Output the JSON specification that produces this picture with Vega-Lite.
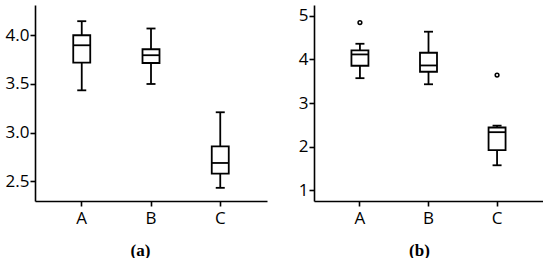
{
  "$schema": "https://vega.github.io/schema/vega-lite/v6.json",
  "padding": {"left": 5, "top": 5, "right": 0, "bottom": 0},
  "autosize": {"type": "pad"},
  "spacing": 47,
  "bounds": "flush",
  "background": "white",
  "config": {
    "view": {"stroke": null},
    "font": "Open Sans",
    "axis": {
      "grid": false,
      "domainColor": "black",
      "domainWidth": 1.6,
      "tickColor": "black",
      "tickWidth": 1.6,
      "tickSize": 5,
      "labelFont": "Open Sans",
      "labelFontSize": 17,
      "labelColor": "black"
    }
  },
  "datasets": {
    "boxes": [
      {"panel": "a", "group": "A", "lower": 3.435, "q1": 3.72, "median": 3.897, "q3": 4.0, "upper": 4.144},
      {"panel": "a", "group": "B", "lower": 3.5, "q1": 3.715, "median": 3.795, "q3": 3.856, "upper": 4.069},
      {"panel": "a", "group": "C", "lower": 2.435, "q1": 2.58, "median": 2.69, "q3": 2.86, "upper": 3.21},
      {"panel": "b", "group": "A", "lower": 3.57, "q1": 3.855, "median": 4.115, "q3": 4.21, "upper": 4.36},
      {"panel": "b", "group": "B", "lower": 3.43, "q1": 3.717, "median": 3.862, "q3": 4.154, "upper": 4.637},
      {"panel": "b", "group": "C", "lower": 1.57, "q1": 1.917, "median": 2.33, "q3": 2.437, "upper": 2.48}
    ],
    "outliers": [
      {"panel": "b", "group": "A", "value": 4.846},
      {"panel": "b", "group": "C", "value": 3.64}
    ]
  },
  "hconcat": [
    {
      "width": 232,
      "height": 196,
      "data": {"name": "boxes"},
      "transform": [{"filter": "datum.panel === 'a'"}],
      "encoding": {
        "x": {
          "field": "group", "type": "nominal",
          "scale": {"paddingInner": 0, "paddingOuter": 0.175},
          "axis": {
            "title": "(a)", "labelAngle": 0, "labelPadding": 4,
            "titleFont": "Liberation Serif", "titleFontSize": 17, "titleFontWeight": "bold",
            "titleX": 105, "titleY": 49, "titleBaseline": "middle", "titleColor": "black"
          }
        }
      },
      "layer": [
        {
          "mark": {"type": "rule", "color": "black", "strokeWidth": 1.8},
          "encoding": {
            "y": {"field": "lower", "type": "quantitative", "title": null,
                  "scale": {"domain": [2.3, 4.31], "nice": false, "zero": false},
                  "axis": {"values": [2.5, 3, 3.5, 4], "format": ".1f", "labelPadding": 1}},
            "y2": {"field": "upper"}
          }
        },
        {
          "mark": {"type": "bar", "size": 17, "fill": "white", "stroke": "black", "strokeWidth": 1.8},
          "encoding": {
            "y": {"field": "q1", "type": "quantitative", "title": null},
            "y2": {"field": "q3"}
          }
        },
        {
          "mark": {"type": "tick", "size": 17, "thickness": 1.8, "color": "black", "opacity": 1},
          "encoding": {"y": {"field": "median", "type": "quantitative", "title": null}}
        },
        {
          "mark": {"type": "tick", "size": 9, "thickness": 1.8, "color": "black", "opacity": 1},
          "encoding": {"y": {"field": "lower", "type": "quantitative", "title": null}}
        },
        {
          "mark": {"type": "tick", "size": 9, "thickness": 1.8, "color": "black", "opacity": 1},
          "encoding": {"y": {"field": "upper", "type": "quantitative", "title": null}}
        }
      ]
    },
    {
      "width": 229,
      "height": 196,
      "data": {"name": "boxes"},
      "transform": [{"filter": "datum.panel === 'b'"}],
      "encoding": {
        "x": {
          "field": "group", "type": "nominal",
          "scale": {"paddingInner": 0, "paddingOuter": 0.17},
          "axis": {
            "title": "(b)", "labelAngle": 0, "labelPadding": 4,
            "titleFont": "Liberation Serif", "titleFontSize": 17, "titleFontWeight": "bold",
            "titleX": 105, "titleY": 49, "titleBaseline": "middle", "titleColor": "black"
          }
        }
      },
      "layer": [
        {
          "mark": {"type": "rule", "color": "black", "strokeWidth": 1.8},
          "encoding": {
            "y": {"field": "lower", "type": "quantitative", "title": null,
                  "scale": {"domain": [0.75, 5.25], "nice": false, "zero": false},
                  "axis": {"values": [1, 2, 3, 4, 5], "format": "d", "labelPadding": 1}},
            "y2": {"field": "upper"}
          }
        },
        {
          "mark": {"type": "bar", "size": 17, "fill": "white", "stroke": "black", "strokeWidth": 1.8},
          "encoding": {
            "y": {"field": "q1", "type": "quantitative", "title": null},
            "y2": {"field": "q3"}
          }
        },
        {
          "mark": {"type": "tick", "size": 17, "thickness": 1.8, "color": "black", "opacity": 1},
          "encoding": {"y": {"field": "median", "type": "quantitative", "title": null}}
        },
        {
          "mark": {"type": "tick", "size": 9, "thickness": 1.8, "color": "black", "opacity": 1},
          "encoding": {"y": {"field": "lower", "type": "quantitative", "title": null}}
        },
        {
          "mark": {"type": "tick", "size": 9, "thickness": 1.8, "color": "black", "opacity": 1},
          "encoding": {"y": {"field": "upper", "type": "quantitative", "title": null}}
        },
        {
          "data": {"name": "outliers"},
          "mark": {"type": "point", "shape": "circle", "size": 14, "filled": false, "fill": "white", "stroke": "black", "strokeWidth": 1.5, "opacity": 1},
          "encoding": {"y": {"field": "value", "type": "quantitative", "title": null}}
        }
      ]
    }
  ]
}
